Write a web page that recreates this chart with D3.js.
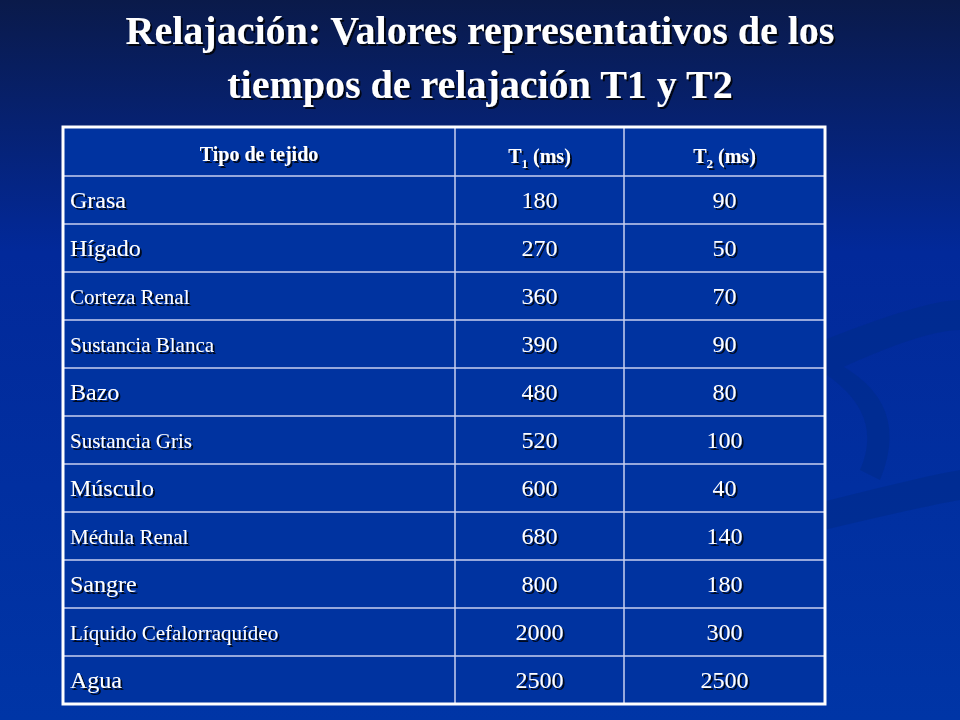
<!DOCTYPE html><html><head><meta charset="utf-8"><script src="https://cdn.jsdelivr.net/npm/d3@7"></script>
<style>body{margin:0;background:#000}</style></head><body><svg id="c" width="960" height="720"></svg>
<script>
const titleLines=["Relajación: Valores representativos de los","tiempos de relajación T1 y T2"];
const tissues=["Grasa","Hígado","Corteza Renal","Sustancia Blanca","Bazo","Sustancia Gris","Músculo","Médula Renal","Sangre","Líquido Cefalorraquídeo","Agua"];
const t1=[180,270,360,390,480,520,600,680,800,2000,2500];
const t2=[90,50,70,90,80,100,40,140,180,300,2500];
const smallNames=new Set(["Corteza Renal","Sustancia Blanca","Sustancia Gris","Médula Renal","Líquido Cefalorraquídeo"]);
const svg=d3.select("#c");
const defs=svg.append("defs");
const g=defs.append("linearGradient").attr("id","bg").attr("x1",0).attr("y1",0).attr("x2",0).attr("y2",1);
g.append("stop").attr("offset","0").attr("stop-color","#0a1a4a");
g.append("stop").attr("offset","0.35").attr("stop-color","#02299a");
g.append("stop").attr("offset","1").attr("stop-color","#0035a6");
const f=defs.append("filter").attr("id","sh");
f.append("feDropShadow").attr("dx",2).attr("dy",2).attr("stdDeviation",0.6).attr("flood-color","#000").attr("flood-opacity",0.8);
svg.append("rect").attr("width",960).attr("height",720).attr("fill","url(#bg)");
svg.append("path").attr("d","M640 420 Q900 300 960 300 L960 330 Q900 330 700 440 Z M600 560 Q900 480 960 470 L960 500 Q900 510 620 580 Z M860 470 Q900 380 720 330 Q930 360 880 480 Z").attr("fill","#002b8a").attr("opacity",0.6);
svg.append("g").selectAll("text").data(titleLines).join("text")
 .attr("x",480).attr("y",(d,i)=>44+i*54).attr("text-anchor","middle")
 .attr("font-family","Liberation Serif").attr("font-weight","bold").attr("font-size",40)
 .attr("fill","#fff").attr("filter","url(#sh)").text(d=>d);
const x0=63,x1=455,x2=624,x3=825,ty0=127;
const y=d3.scaleBand().domain(tissues).range([176,704]);
svg.append("rect").attr("x",x0).attr("y",ty0).attr("width",x3-x0).attr("height",704-ty0).attr("fill","#0033a0");
const lines=svg.append("g").attr("stroke","#c8d0f0").attr("stroke-width",1.5);
tissues.forEach(t=>lines.append("line").attr("x1",x0).attr("x2",x3).attr("y1",y(t)).attr("y2",y(t)));
[x1,x2].forEach(xx=>lines.append("line").attr("x1",xx).attr("x2",xx).attr("y1",ty0).attr("y2",704));
svg.append("rect").attr("x",x0).attr("y",ty0).attr("width",x3-x0).attr("height",704-ty0).attr("fill","none").attr("stroke","#fff").attr("stroke-width",3);
const hdr=svg.append("g").attr("font-family","Liberation Serif").attr("font-weight","bold").attr("font-size",20).attr("fill","#fff").attr("filter","url(#sh)").attr("text-anchor","middle");
hdr.append("text").attr("x",(x0+x1)/2).attr("y",161).text("Tipo de tejido");
[["1",(x1+x2)/2],["2",(x2+x3)/2]].forEach(([s,cx])=>{const t=hdr.append("text").attr("x",cx).attr("y",163);t.append("tspan").text("T");t.append("tspan").attr("font-size",13).attr("dy",5).text(s);t.append("tspan").attr("dy",-5).text(" (ms)");});
const body=svg.append("g").attr("font-family","Liberation Serif").attr("fill","#fff").attr("filter","url(#sh)");
const bw=y.bandwidth();
body.selectAll("text.n").data(tissues).join("text").attr("class","n").attr("x",70).attr("y",d=>y(d)+bw/2+8).attr("font-size",d=>smallNames.has(d)?21:24).text(d=>d);
body.selectAll("text.a").data(t1).join("text").attr("class","a").attr("x",(x1+x2)/2).attr("text-anchor","middle").attr("y",(d,i)=>y(tissues[i])+bw/2+8).attr("font-size",24).text(d=>d);
body.selectAll("text.b").data(t2).join("text").attr("class","b").attr("x",(x2+x3)/2).attr("text-anchor","middle").attr("y",(d,i)=>y(tissues[i])+bw/2+8).attr("font-size",24).text(d=>d);
</script></body></html>
